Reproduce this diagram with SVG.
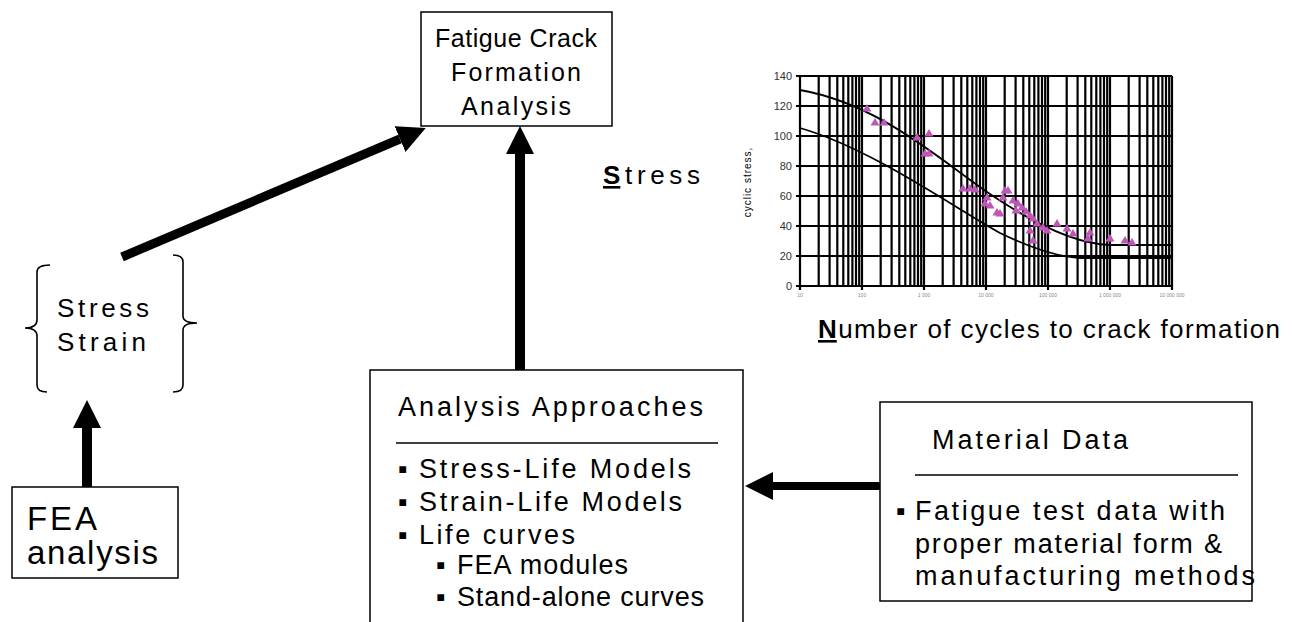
<svg xmlns="http://www.w3.org/2000/svg" width="1293" height="622" viewBox="0 0 1293 622">
<style>
text{font-family:"Liberation Sans",Arial,sans-serif;fill:#000}
.box{fill:#fff;stroke:#000;stroke-width:1.5}
.t25{font-size:27px}
.tf{font-size:25px}
.t24{font-size:26px}
.t32{font-size:33px}
.shaft{stroke:#000;fill:none}
.brace{fill:none;stroke:#000;stroke-width:1.6}
.rule{stroke:#000;stroke-width:1.5}
.grid{stroke:#000;stroke-width:2.2;fill:none}
.curve{stroke:#000;stroke-width:1.8;fill:none}
.ylab{font-size:11px;fill:#333;text-anchor:end}
.xlab{font-size:5px;fill:#888;text-anchor:middle}
.tri{fill:#c056b8}
</style>
<defs>
<marker id="ah" viewBox="0 0 28 28" refX="0" refY="14" markerWidth="28" markerHeight="28" markerUnits="userSpaceOnUse" orient="auto">
<path d="M0,0 L28,14 L0,28 Z" fill="#000"/>
</marker>
<path id="tr" d="M0,-4 L4.5,3.5 L-4.5,3.5 Z"/>
</defs>

<g id="connectors">
<line class="shaft" x1="122" y1="257" x2="400" y2="139" stroke-width="9" marker-end="url(#ah)"/>
<line class="shaft" x1="520" y1="370" x2="520" y2="154" stroke-width="10" marker-end="url(#ah)"/>
<line class="shaft" x1="87" y1="487" x2="87" y2="428" stroke-width="10" marker-end="url(#ah)"/>
<line class="shaft" x1="880" y1="486" x2="773" y2="486" stroke-width="8" marker-end="url(#ah)"/>
</g>

<g id="fatigue-crack">
<rect class="box" x="421" y="12" width="191" height="114"/>
<text class="tf" x="516" y="47" text-anchor="middle" textLength="162" lengthAdjust="spacing">Fatigue Crack</text>
<text class="tf" x="516" y="81" text-anchor="middle" textLength="130" lengthAdjust="spacing">Formation</text>
<text class="tf" x="516" y="115" text-anchor="middle" textLength="110" lengthAdjust="spacing">Analysis</text>
</g>

<g id="stress-strain">
<path class="brace" d="M50,265 Q37,265 37,272 V320 Q37,328 25,328 Q37,328 37,336 V385 Q37,392 47,392"/>
<path class="brace" d="M173,255 Q183,255 183,262 V316 Q183,323 197,323 Q183,323 183,330 V385 Q183,392 173,392"/>
<text class="t24" x="57" y="317" textLength="92" lengthAdjust="spacing">Stress</text>
<text class="t24" x="57" y="351" textLength="89" lengthAdjust="spacing">Strain</text>
</g>

<g id="fea">
<rect class="box" x="12" y="487" width="166" height="91"/>
<text class="t32" x="27" y="530" textLength="70" lengthAdjust="spacing">FEA</text>
<text class="t32" x="27" y="564" textLength="131" lengthAdjust="spacing">analysis</text>
</g>

<g id="analysis-approaches">
<rect class="box" x="370" y="370" width="373" height="270"/>
<text class="t25" x="398" y="416" textLength="305" lengthAdjust="spacing">Analysis Approaches</text>
<line class="rule" x1="396" y1="443" x2="718" y2="443"/>
<text class="t25" x="398" y="478">▪</text>
<text class="t25" x="419" y="478" textLength="272" lengthAdjust="spacing">Stress-Life Models</text>
<text class="t25" x="398" y="511">▪</text>
<text class="t25" x="419" y="511" textLength="263" lengthAdjust="spacing">Strain-Life Models</text>
<text class="t25" x="398" y="544">▪</text>
<text class="t25" x="419" y="544" textLength="156" lengthAdjust="spacing">Life curves</text>
<text class="t25" x="436" y="574">▪</text>
<text class="t25" x="457" y="574" textLength="171" lengthAdjust="spacing">FEA modules</text>
<text class="t25" x="436" y="606">▪</text>
<text class="t25" x="457" y="606" textLength="247" lengthAdjust="spacing">Stand-alone curves</text>
</g>

<g id="material-data">
<rect class="box" x="880" y="402" width="372" height="199"/>
<text class="t25" x="932" y="449" textLength="196" lengthAdjust="spacing">Material Data</text>
<line class="rule" x1="915" y1="475" x2="1238" y2="475"/>
<text class="t25" x="896" y="520">▪</text>
<text class="t25" x="915" y="520" textLength="310" lengthAdjust="spacing">Fatigue test data with</text>
<text class="t25" x="915" y="553" textLength="307" lengthAdjust="spacing">proper material form &amp;</text>
<text class="t25" x="915" y="585" textLength="340" lengthAdjust="spacing">manufacturing methods</text>
</g>

<g id="chart">
<text class="t24" x="603" y="184" textLength="97" lengthAdjust="spacing"><tspan font-weight="bold" text-decoration="underline">S</tspan>tress</text>
<text class="t24" x="818" y="338" textLength="462" lengthAdjust="spacing"><tspan font-weight="bold" text-decoration="underline">N</tspan>umber of cycles to crack formation</text>
<text x="751" y="182" font-size="10" fill="#aaa" text-anchor="middle" letter-spacing="1" transform="rotate(-90 751 182)">cyclic stress,</text>
<rect x="800" y="76" width="372" height="210" fill="#fff" stroke="#999" stroke-width="1"/>
<path class="grid" d="M800,76V290M818.7,76V286M829.6,76V286M837.3,76V286M843.3,76V286M848.3,76V286M852.4,76V286M856,76V286M859.2,76V286
M862,76V290M880.7,76V286M891.6,76V286M899.3,76V286M905.3,76V286M910.3,76V286M914.4,76V286M918,76V286M921.2,76V286
M924,76V290M942.7,76V286M953.6,76V286M961.3,76V286M967.3,76V286M972.3,76V286M976.4,76V286M980,76V286M983.2,76V286
M986,76V290M1004.7,76V286M1015.6,76V286M1023.3,76V286M1029.3,76V286M1034.3,76V286M1038.4,76V286M1042,76V286M1045.2,76V286
M1048,76V290M1066.7,76V286M1077.6,76V286M1085.3,76V286M1091.3,76V286M1096.3,76V286M1100.4,76V286M1104,76V286M1107.2,76V286
M1110,76V290M1128.7,76V286M1139.6,76V286M1147.3,76V286M1153.3,76V286M1158.3,76V286M1162.4,76V286M1166,76V286M1169.2,76V286
M1172,76V290
M796,76H1172M796,106H1172M796,136H1172M796,166H1172M796,196H1172M796,226H1172M796,256H1172M796,286H1172"/>
<path class="curve" d="M800,90 C880,104 940,160 990,194 C1040,228 1080,244 1110,245 H1172"/>
<path class="curve" d="M800,128 C870,148 950,205 1000,233 C1035,250 1060,257 1080,258 H1172"/>
<g class="tri">
<use href="#tr" x="867" y="108"/><use href="#tr" x="875" y="122"/><use href="#tr" x="884" y="122"/>
<use href="#tr" x="917" y="137"/><use href="#tr" x="929" y="133"/><use href="#tr" x="925" y="153"/><use href="#tr" x="929" y="153"/>
<use href="#tr" x="963" y="188"/><use href="#tr" x="970" y="188"/><use href="#tr" x="975" y="189"/>
<use href="#tr" x="987" y="197"/><use href="#tr" x="985" y="203"/><use href="#tr" x="990" y="205"/><use href="#tr" x="997" y="212"/>
<use href="#tr" x="1005" y="190"/><use href="#tr" x="1003" y="197"/><use href="#tr" x="1008" y="190"/>
<use href="#tr" x="1013" y="200"/><use href="#tr" x="1018" y="203"/><use href="#tr" x="1022" y="207"/><use href="#tr" x="1026" y="211"/>
<use href="#tr" x="1030" y="215"/><use href="#tr" x="1033" y="218"/><use href="#tr" x="1000" y="213"/><use href="#tr" x="1016" y="210"/>
<use href="#tr" x="1037" y="223"/><use href="#tr" x="1043" y="227"/><use href="#tr" x="1047" y="230"/><use href="#tr" x="1030" y="230"/>
<use href="#tr" x="1033" y="240"/><use href="#tr" x="1057" y="223"/><use href="#tr" x="1067" y="228"/><use href="#tr" x="1073" y="233"/>
<use href="#tr" x="1090" y="232"/><use href="#tr" x="1088" y="238"/><use href="#tr" x="1110" y="238"/>
<use href="#tr" x="1125" y="240"/><use href="#tr" x="1132" y="242"/>
</g>
<text class="ylab" x="792" y="80">140</text>
<text class="ylab" x="792" y="110">120</text>
<text class="ylab" x="792" y="140">100</text>
<text class="ylab" x="792" y="170">80</text>
<text class="ylab" x="792" y="200">60</text>
<text class="ylab" x="792" y="230">40</text>
<text class="ylab" x="792" y="260">20</text>
<text class="ylab" x="792" y="290">0</text>
<text class="xlab" x="800" y="297">10</text>
<text class="xlab" x="862" y="297">100</text>
<text class="xlab" x="924" y="297">1 000</text>
<text class="xlab" x="986" y="297">10 000</text>
<text class="xlab" x="1048" y="297">100 000</text>
<text class="xlab" x="1110" y="297">1 000 000</text>
<text class="xlab" x="1172" y="297">10 000 000</text>
</g>
</svg>
